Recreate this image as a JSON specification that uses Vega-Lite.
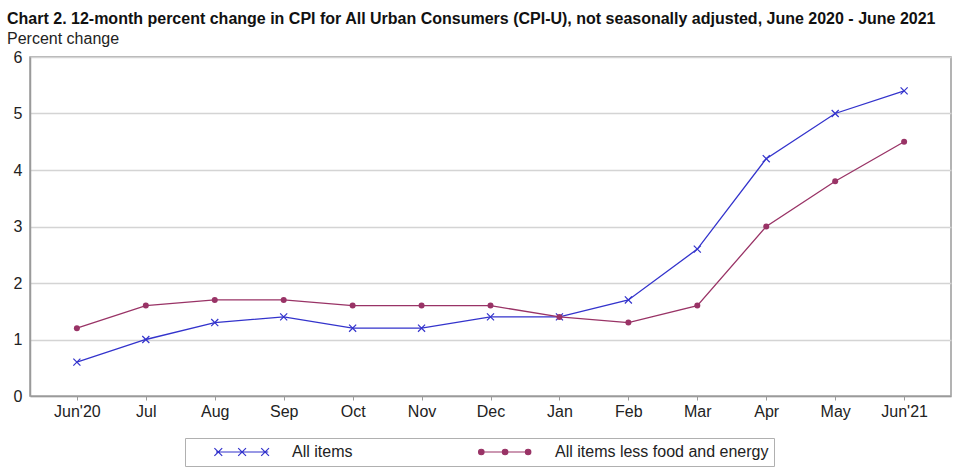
{
  "$schema": "https://vega.github.io/schema/vega-lite/v6.json",
  "width": 921,
  "height": 339,
  "autosize": {"type": "none"},
  "padding": {"left": 30, "top": 57, "right": 11, "bottom": 78},
  "background": "white",
  "config": {
    "font": "Liberation Sans",
    "view": {"stroke": "#9a9a9a", "strokeWidth": 1.5}
  },
  "title": {
    "text": "Chart 2. 12-month percent change in CPI for All Urban Consumers (CPI-U), not seasonally adjusted, June 2020 - June 2021",
    "subtitle": "Percent change",
    "anchor": "start",
    "frame": "group",
    "dx": -23,
    "font": "Liberation Sans",
    "fontSize": 16,
    "fontWeight": "bold",
    "color": "#111111",
    "subtitleFont": "Liberation Sans",
    "subtitleFontSize": 16,
    "subtitleColor": "#222222",
    "subtitlePadding": 4,
    "offset": 2
  },
  "data": {
    "values": [
      {"month": "Jun'20", "series": "All items", "value": 0.6},
      {"month": "Jul", "series": "All items", "value": 1.0},
      {"month": "Aug", "series": "All items", "value": 1.3},
      {"month": "Sep", "series": "All items", "value": 1.4},
      {"month": "Oct", "series": "All items", "value": 1.2},
      {"month": "Nov", "series": "All items", "value": 1.2},
      {"month": "Dec", "series": "All items", "value": 1.4},
      {"month": "Jan", "series": "All items", "value": 1.4},
      {"month": "Feb", "series": "All items", "value": 1.7},
      {"month": "Mar", "series": "All items", "value": 2.6},
      {"month": "Apr", "series": "All items", "value": 4.2},
      {"month": "May", "series": "All items", "value": 5.0},
      {"month": "Jun'21", "series": "All items", "value": 5.4},
      {"month": "Jun'20", "series": "All items less food and energy", "value": 1.2},
      {"month": "Jul", "series": "All items less food and energy", "value": 1.6},
      {"month": "Aug", "series": "All items less food and energy", "value": 1.7},
      {"month": "Sep", "series": "All items less food and energy", "value": 1.7},
      {"month": "Oct", "series": "All items less food and energy", "value": 1.6},
      {"month": "Nov", "series": "All items less food and energy", "value": 1.6},
      {"month": "Dec", "series": "All items less food and energy", "value": 1.6},
      {"month": "Jan", "series": "All items less food and energy", "value": 1.4},
      {"month": "Feb", "series": "All items less food and energy", "value": 1.3},
      {"month": "Mar", "series": "All items less food and energy", "value": 1.6},
      {"month": "Apr", "series": "All items less food and energy", "value": 3.0},
      {"month": "May", "series": "All items less food and energy", "value": 3.8},
      {"month": "Jun'21", "series": "All items less food and energy", "value": 4.5}
    ]
  },
  "encoding": {
    "x": {
      "field": "month",
      "type": "ordinal",
      "sort": null,
      "scale": {"type": "point", "padding": 0.68},
      "axis": {
        "title": null,
        "labelAngle": 0,
        "labelFontSize": 16,
        "labelColor": "#222222",
        "tickColor": "#9a9a9a",
        "tickSize": 4,
        "labelPadding": 3,
        "domainColor": "#9a9a9a",
        "domainWidth": 1.5,
        "grid": false
      }
    },
    "y": {
      "field": "value",
      "type": "quantitative",
      "scale": {"domain": [0, 6], "nice": false},
      "axis": {
        "title": null,
        "values": [0, 1, 2, 3, 4, 5, 6],
        "labelFontSize": 16,
        "labelColor": "#222222",
        "ticks": false,
        "labelPadding": 8,
        "domainColor": "#9a9a9a",
        "domainWidth": 1.5,
        "grid": true,
        "gridColor": "#d4d4d4",
        "gridWidth": 1.5
      }
    },
    "color": {
      "field": "series",
      "type": "nominal",
      "scale": {
        "domain": ["All items", "All items less food and energy"],
        "range": ["#3333CC", "#993366"]
      },
      "legend": {
        "title": null,
        "orient": "none",
        "legendX": 155,
        "legendY": 381,
        "direction": "horizontal",
        "strokeColor": "#b0b0b0",
        "padding": 5,
        "symbolSize": 6084,
        "symbolStrokeWidth": 1.2,
        "labelFontSize": 16,
        "labelColor": "#222222",
        "labelLimit": 400,
        "labelOffset": 22,
        "columnPadding": 100,
        "clipHeight": 18,
        "encode": {
          "symbols": {
            "update": {
              "shape": [
                {"test": "datum.value === 'All items'", "value": "M-0.36,0H0.98M-0.4,-0.1L-0.2,0.1M-0.4,0.1L-0.2,-0.1M0.21,-0.1L0.41,0.1M0.21,0.1L0.41,-0.1M0.8,-0.1L1,0.1M0.8,0.1L1,-0.1"},
                {"value": "M-0.36,0H0.98M-0.23,0A0.07,0.07,0,1,0,-0.37,0A0.07,0.07,0,1,0,-0.23,0M0.38,0A0.07,0.07,0,1,0,0.24,0A0.07,0.07,0,1,0,0.38,0M0.97,0A0.07,0.07,0,1,0,0.83,0A0.07,0.07,0,1,0,0.97,0"}
              ],
              "fill": [
                {"test": "datum.value === 'All items'", "value": "transparent"},
                {"value": "#993366"}
              ],
              "stroke": [
                {"test": "datum.value === 'All items'", "value": "#3333CC"},
                {"value": "#993366"}
              ],
              "strokeWidth": {"value": 1.2},
              "opacity": {"value": 1}
            }
          }
        }
      }
    }
  },
  "layer": [
    {"mark": {"type": "line", "strokeWidth": 1.3}},
    {
      "transform": [{"filter": "datum.series === 'All items'"}],
      "mark": {"type": "point", "shape": "M-1,-1L1,1M-1,1L1,-1", "filled": false, "size": 50, "strokeWidth": 1.2, "opacity": 1}
    },
    {
      "transform": [{"filter": "datum.series !== 'All items'"}],
      "mark": {"type": "point", "shape": "circle", "filled": true, "size": 36, "opacity": 1}
    }
  ]
}
